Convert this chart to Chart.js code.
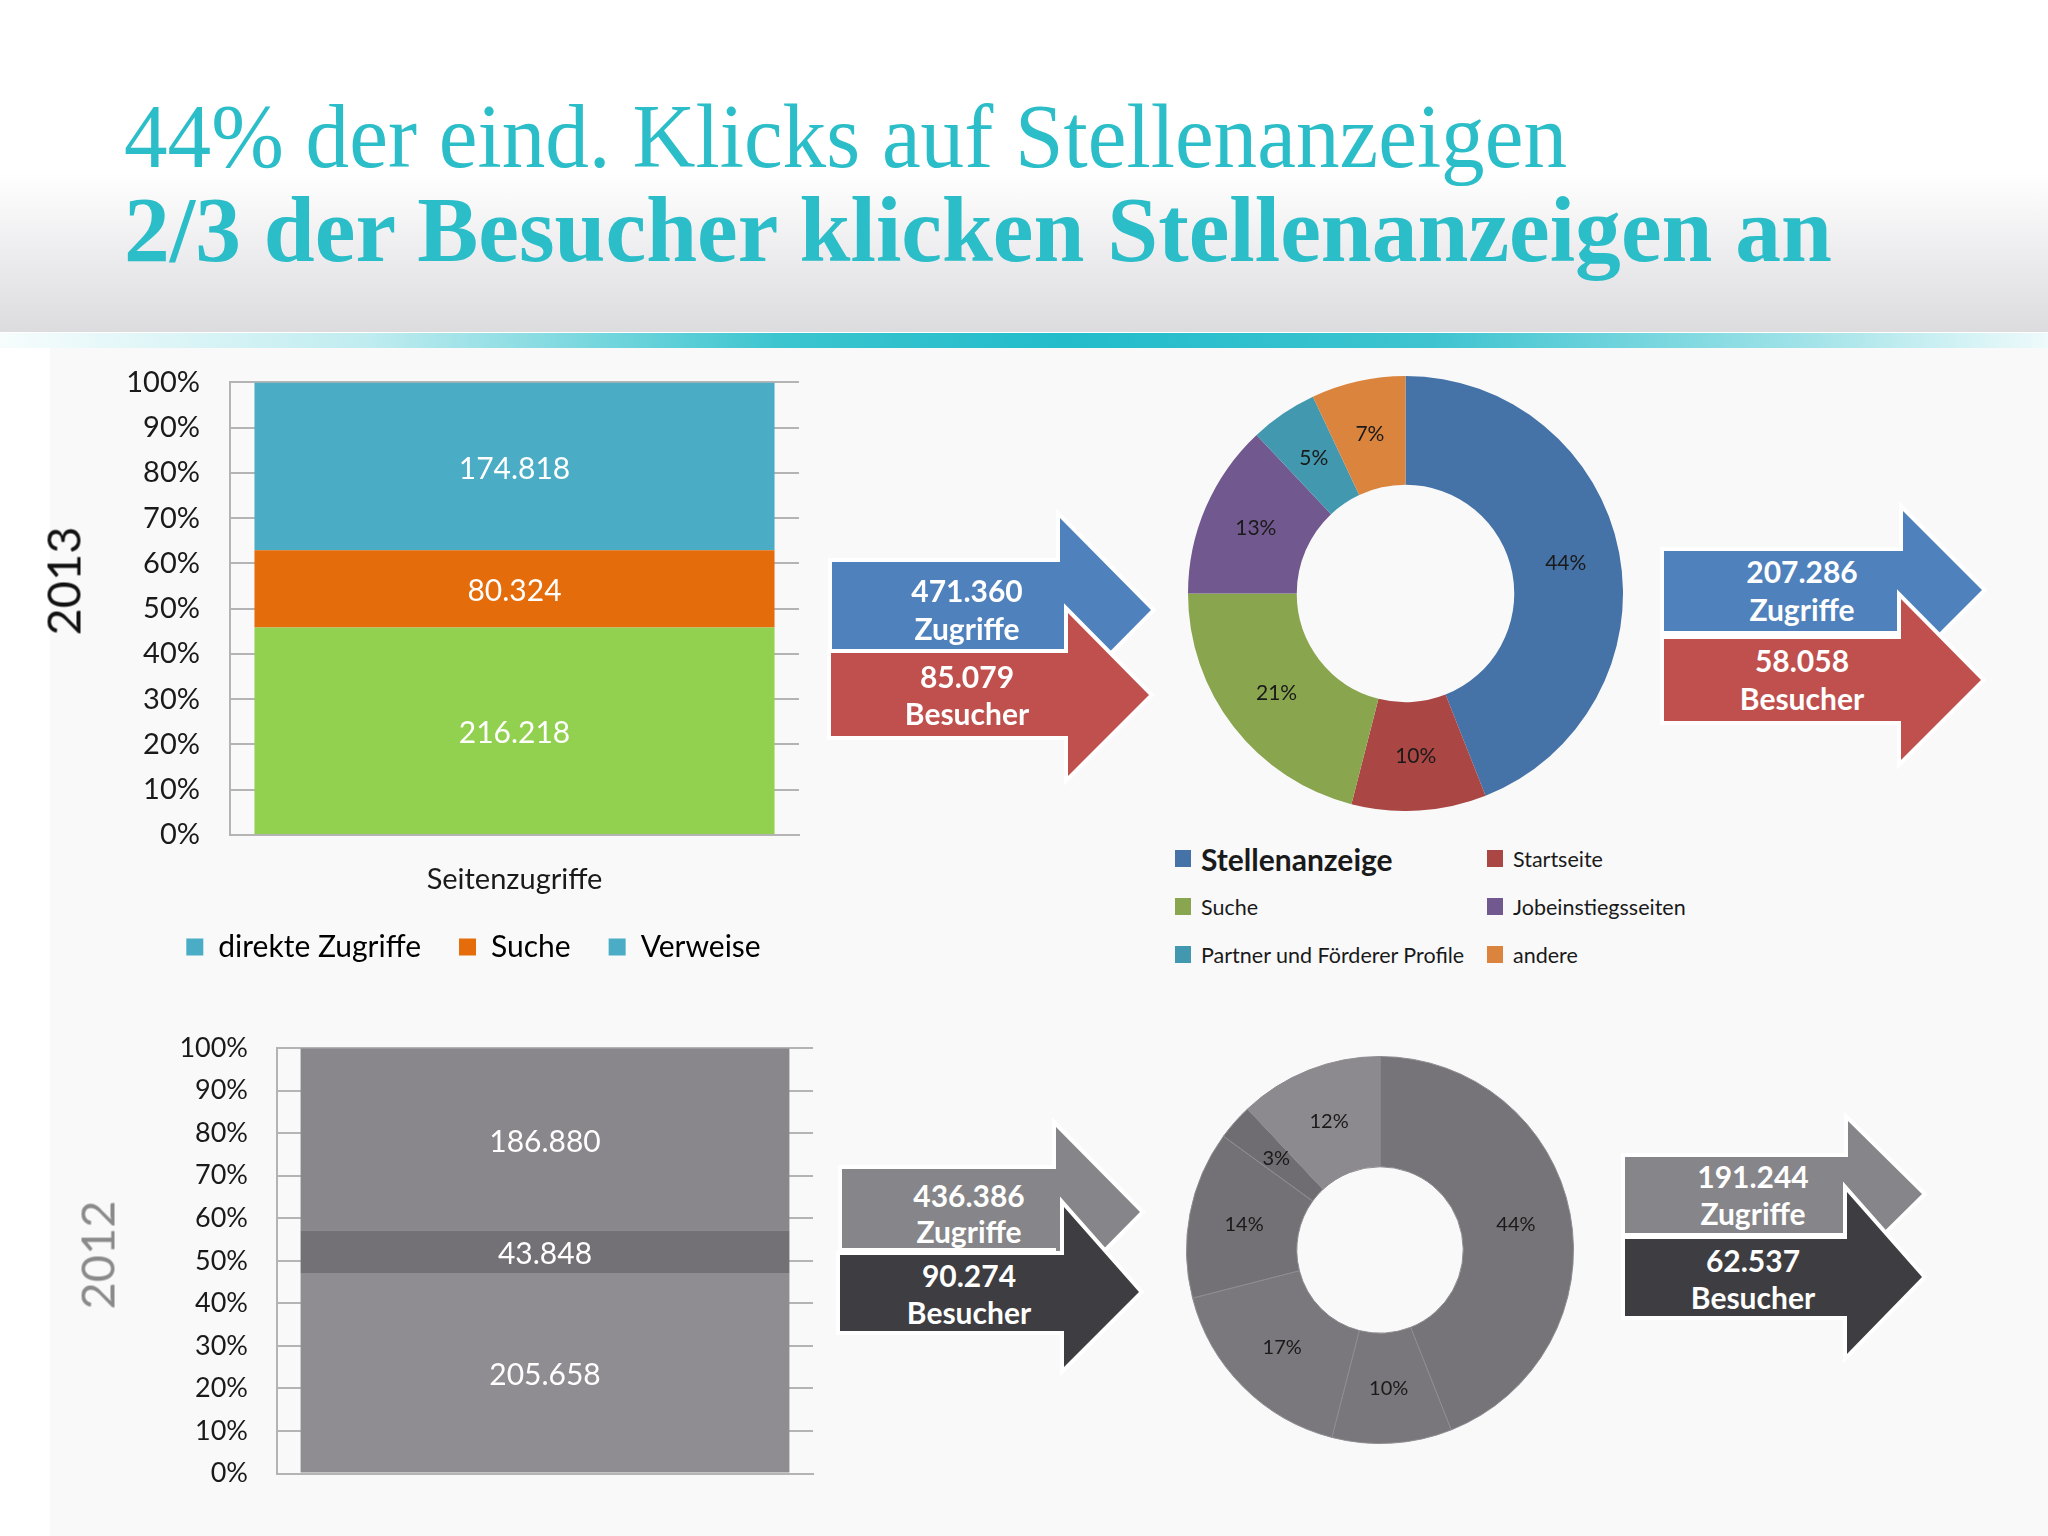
<!DOCTYPE html>
<html><head><meta charset="utf-8">
<script src="https://cdn.jsdelivr.net/npm/chart.js@4.4.1/dist/chart.umd.min.js"></script>
<style>
html,body{margin:0;padding:0;}
body{width:2048px;height:1536px;position:relative;overflow:hidden;background:#fff;font-family:Lato,"Open Sans",sans-serif;}
#header{position:absolute;left:0;top:0;width:2048px;height:332px;background:linear-gradient(to bottom,#ffffff 0%,#ffffff 52%,#ededef 76%,#dcdcde 100%);}
#teal{position:absolute;left:0;top:333px;width:2048px;height:15px;background:linear-gradient(to right,rgba(43,192,204,0.04) 0%,rgba(43,192,204,0.3) 18%,#3cc5cf 38%,#22bccb 52%,#3ec4d0 70%,rgba(43,192,204,0.45) 88%,rgba(43,192,204,0.08) 100%);}
#content{position:absolute;left:50px;top:348px;width:1998px;height:1188px;background:#f9f9fa;}
.title{position:absolute;left:124px;white-space:nowrap;color:#2bbdc8;font-family:"Liberation Serif","DejaVu Serif",serif;transform-origin:0 0;}
#t1{top:92px;font-size:90px;line-height:90px;font-weight:normal;}
#t2{top:182px;font-size:94px;line-height:94px;font-weight:bold;}
canvas{position:absolute;}
svg{position:absolute;left:0;top:0;}
.at{position:absolute;color:#fff;font-weight:bold;font-size:30px;line-height:30px;white-space:nowrap;transform:translate(-50%,-50%);}
.year{position:absolute;font-size:47px;line-height:47px;font-weight:normal;white-space:nowrap;transform:translate(-50%,-50%) rotate(-90deg);}
.lg{position:absolute;white-space:nowrap;color:#1a1a1a;}
.lg i{position:absolute;left:0;top:50%;width:16px;height:17px;margin-top:-9px;}
.lg span{position:absolute;left:26px;top:50%;transform:translateY(-50%);}
</style>
</head>
<body>
<div id="header"></div>
<div id="teal"></div>
<div id="content"></div>
<div class="title" id="t1">44% der eind. Klicks auf Stellenanzeigen</div>
<div class="title" id="t2">2/3 der Besucher klicken Stellenanzeigen an</div>

<svg id="arrows" width="2048" height="1536"></svg>

<canvas id="bar2013" width="947" height="643" style="left:0;top:335px;width:947px;height:643px"></canvas>
<canvas id="bar2012" width="850" height="533" style="left:0;top:1003px;width:850px;height:533px"></canvas>
<canvas id="donut2013" width="435" height="435" style="left:1188px;top:376px;width:435px;height:435px"></canvas>
<canvas id="donut2012" width="388" height="388" style="left:1185.5px;top:1056px;width:388px;height:388px"></canvas>

<div class="year" style="left:63px;top:581px;color:#111;">2013</div>
<div class="year" style="left:97px;top:1255px;color:#8a8a8a;">2012</div>
<div id="donutLegend"></div>
<div id="arrowTexts"></div>

<script>
// ---------- data ----------
const barCategories = ['Seitenzugriffe'];
const barSeriesNames = ['direkte Zugriffe', 'Suche', 'Verweise'];
const bar2013Values = [216218, 80324, 174818];
const bar2012Values = [205658, 43848, 186880];
const percentTickStep = 10;

const donutLabels = ['Stellenanzeige', 'Startseite', 'Suche', 'Jobeinstiegsseiten', 'Partner und Förderer Profile', 'andere'];
const donut2013Values = [44, 10, 21, 13, 5, 7];
const donut2012Values = [44, 10, 17, 14, 3, 12];

const arrowLabelsTop = ['Zugriffe'];
const arrowLabelsBottom = ['Besucher'];
const zugriffe2013 = [471360, 207286];
const besucher2013 = [85079, 58058];
const zugriffe2012 = [436386, 191244];
const besucher2012 = [90274, 62537];

// ---------- styles ----------
const bar2013Colors = ['#92d050', '#e46c0a', '#4bacc6'];
const bar2013LegendColors = ['#4bacc6', '#e46c0a', '#4bacc6'];
const bar2012Colors = ['#8f8d91', '#737175', '#89878b'];
const donut2013Colors = ['#4572a7', '#aa4643', '#89a54e', '#71588f', '#4198af', '#db843d'];
const donut2012Colors = ['#767478', '#79777b', '#7a787c', '#737175', '#6f6d71', '#8c8a8e'];
const FONT = 'Lato';

function fmt(n) { return String(n).replace(/\B(?=(\d{3})+(?!\d))/g, '.'); }

const valueLabels = {
  id: 'valueLabels',
  afterDatasetsDraw(chart, args, opts) {
    if (!opts || !opts.display) return;
    const ctx = chart.ctx;
    ctx.save();
    ctx.font = opts.font;
    ctx.fillStyle = opts.color;
    ctx.textAlign = 'center';
    ctx.textBaseline = 'middle';
    const isBar = chart.config.type === 'bar';
    chart.data.datasets.forEach((ds, di) => {
      const meta = chart.getDatasetMeta(di);
      meta.data.forEach((el, i) => {
        let x, y;
        if (isBar) {
          const p = el.getProps(['x', 'y', 'base'], true);
          x = p.x; y = (p.y + p.base) / 2;
        } else {
          const p = el.tooltipPosition(true);
          x = p.x; y = p.y;
        }
        ctx.fillText(opts.formatter(ds, di, i), x, y + (opts.dy || 0));
      });
    });
    ctx.restore();
  }
};

function sum(a) { return a.reduce((s, v) => s + v, 0); }

function makeBar(id, values, colors, cfg) {
  const total = sum(values);
  return new Chart(document.getElementById(id), {
    type: 'bar',
    data: {
      labels: barCategories,
      datasets: barSeriesNames.map((name, i) => ({
        label: name,
        data: [values[i] / total * 100],
        rawValue: values[i],
        backgroundColor: colors[i],
        borderWidth: 0,
        barPercentage: cfg.barPct,
        categoryPercentage: 1
      }))
    },
    options: {
      responsive: false, animation: false, devicePixelRatio: 1,
      layout: { padding: cfg.padding },
      scales: Object.assign({
        x: {
          stacked: true,
          grid: { display: false },
          border: { display: true, color: '#b4b4b4', width: 2 },
          ticks: { display: cfg.showX, padding: 22, color: '#1a1a1a', font: { family: FONT, size: 29, lineHeight: 1 } },
          afterFit: s => { s.height = cfg.xHeight; }
        },
        y: {
          stacked: true, min: 0, max: 100,
          ticks: { stepSize: percentTickStep, padding: cfg.tickPad, color: '#1a1a1a', font: { family: FONT, size: cfg.tickSize }, callback: v => v + '%' },
          grid: { color: '#b4b4b4', lineWidth: 2, drawTicks: false },
          border: { color: '#b4b4b4', width: 2 },
          afterFit: s => { s.width = cfg.yWidth; }
        }
      }, cfg.extraScales || {}),
      plugins: {
        legend: cfg.legend,
        tooltip: { enabled: false },
        valueLabels: {
          display: true, color: '#ffffff', font: '30px ' + FONT, dy: 3,
          formatter: (ds) => fmt(ds.rawValue)
        }
      }
    },
    plugins: [valueLabels]
  });
}

makeBar('bar2013', bar2013Values, bar2013Colors, {
  barPct: 0.914, showX: true, xHeight: 59, tickPad: 30, tickSize: 29, yWidth: 230,
  padding: { left: 0, right: 0, top: 0, bottom: 6 },
  extraScales: {
    yR: { position: 'right', display: true, grid: { display: false }, ticks: { display: false }, border: { display: false }, afterFit: s => { s.width = 148; } }
  },
  legend: {
    display: true, position: 'bottom', align: 'center',
    labels: {
      boxWidth: 17, boxHeight: 17, padding: 38, color: '#1a1a1a', font: { family: FONT, size: 30 },
      generateLabels: () => barSeriesNames.map((n, i) => ({
        text: n, fillStyle: bar2013LegendColors[i], strokeStyle: bar2013LegendColors[i], lineWidth: 0, hidden: false, datasetIndex: i
      }))
    }
  }
});

makeBar('bar2012', bar2012Values, bar2012Colors, {
  barPct: 0.912, showX: false, xHeight: 62.5, tickPad: 29, tickSize: 27, yWidth: 277,
  padding: { left: 0, right: 37, top: 0, bottom: 0 },
  legend: { display: false }
});

function makeDonut(id, values, colors, cutout, fontSize, border) {
  return new Chart(document.getElementById(id), {
    type: 'doughnut',
    data: { labels: donutLabels, datasets: [{ data: values, backgroundColor: colors, borderWidth: border ? 1 : 0, borderColor: border || '#fff' }] },
    options: {
      responsive: false, animation: false, devicePixelRatio: 1, cutout: cutout,
      plugins: {
        legend: { display: false }, tooltip: { enabled: false },
        valueLabels: { display: true, color: '#1a1a1a', font: fontSize + 'px ' + FONT, formatter: (ds, di, i) => ds.data[i] + '%' }
      }
    },
    plugins: [valueLabels]
  });
}
makeDonut('donut2013', donut2013Values, donut2013Colors, '50%', 21, null);
makeDonut('donut2012', donut2012Values, donut2012Colors, '43%', 20, '#8e8c90');

// ---------- donut legend (2 columns, row-major) ----------
(function () {
  const box = document.getElementById('donutLegend');
  const colX = [1175, 1487];
  const rowY = [859, 907, 955];
  donutLabels.forEach((lab, i) => {
    const d = document.createElement('div');
    d.className = 'lg';
    d.style.left = colX[i % 2] + 'px';
    d.style.top = rowY[Math.floor(i / 2)] + 'px';
    const bold = i === 0;
    d.style.fontSize = bold ? '30px' : '21.5px';
    d.style.fontWeight = bold ? 'bold' : 'normal';
    d.innerHTML = '<i style="background:' + donut2013Colors[i] + '"></i><span>' + lab + '</span>';
    box.appendChild(d);
  });
})();

// ---------- arrows ----------
(function () {
  const svg = document.getElementById('arrows');
  // [bodyLeft, bodyTop, bodyRight, bodyBottom, headTop, tipX, tipY, headBottom]
  const shapes = [
    { g: [832, 562, 1060, 649, 518, 1151, 610, 702], c: '#4f81bd' },
    { g: [831, 653, 1068, 736, 613, 1149, 695, 776], c: '#c0504d' },
    { g: [1664, 551, 1903, 631, 511, 1982, 590, 669], c: '#4f81bd' },
    { g: [1664, 639, 1901, 721, 599, 1981, 680, 760], c: '#c0504d' },
    { g: [842, 1169, 1056, 1248, 1127, 1140, 1212, 1297], c: '#868589' },
    { g: [840, 1255, 1064, 1331, 1207, 1139, 1292, 1367], c: '#3e3d41' },
    { g: [1625, 1157, 1848, 1233, 1121, 1922, 1194, 1267], c: '#868589' },
    { g: [1625, 1239, 1847, 1316, 1192, 1922, 1277, 1354], c: '#3e3d41' }
  ];
  let html = '';
  shapes.forEach(s => {
    const [l, t, r, b, ht, tx, ty, hb] = s.g;
    const pts = [[l, t], [r, t], [r, ht], [tx, ty], [r, hb], [r, b], [l, b]].map(p => p.join(',')).join(' ');
    html += '<polygon points="' + pts + '" fill="' + s.c + '" stroke="#ffffff" stroke-width="8" stroke-linejoin="miter" stroke-miterlimit="10" paint-order="stroke"/>';
  });
  svg.innerHTML = html;

  const texts = [
    [zugriffe2013[0], arrowLabelsTop[0], besucher2013[0], arrowLabelsBottom[0], 967, [590, 631, 676, 716]],
    [zugriffe2013[1], arrowLabelsTop[0], besucher2013[1], arrowLabelsBottom[0], 1802, [571, 612, 660, 701]],
    [zugriffe2012[0], arrowLabelsTop[0], besucher2012[0], arrowLabelsBottom[0], 969, [1195, 1234, 1275, 1315]],
    [zugriffe2012[1], arrowLabelsTop[0], besucher2012[1], arrowLabelsBottom[0], 1753, [1176, 1216, 1260, 1300]]
  ];
  const box = document.getElementById('arrowTexts');
  texts.forEach(t => {
    const lines = [fmt(t[0]), t[1], fmt(t[2]), t[3]];
    lines.forEach((txt, k) => {
      const d = document.createElement('div');
      d.className = 'at';
      d.style.left = t[4] + 'px';
      d.style.top = (t[5][k] + (k % 2 ? -3 : 0)) + 'px';
      d.textContent = txt;
      box.appendChild(d);
    });
  });
})();

// ---------- fit title widths ----------
(function () {
  const fit = (id, w) => {
    const el = document.getElementById(id);
    const cw = el.getBoundingClientRect().width;
    el.style.transform = 'scaleX(' + (w / cw) + ')';
  };
  fit('t1', 1443);
  fit('t2', 1708);
})();
</script>
</body></html>
